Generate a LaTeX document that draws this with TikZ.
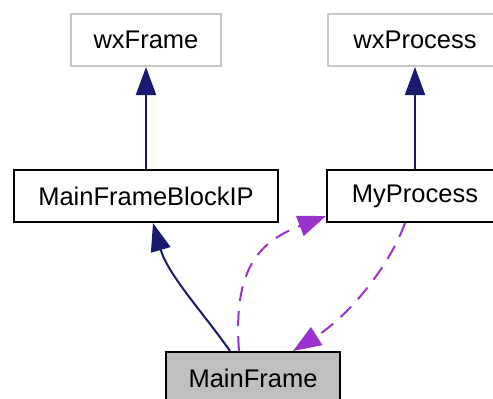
\documentclass[tikz,border=0pt]{standalone}
\usepackage{fontspec}
\setmainfont{Liberation Sans}
\usetikzlibrary{arrows.meta,calc}
\definecolor{Navy}{HTML}{191970}
\definecolor{Orchid}{HTML}{9A32CD}
\definecolor{LGray}{HTML}{C8C8C8}
\definecolor{MGray}{HTML}{BFBFBF}

\begin{document}
\begin{tikzpicture}[x=1pt, y=-1pt,
    cls/.style={draw=black, line width=2pt, fill=white, minimum height=52pt,
        inner sep=0pt, font=\fontsize{25.5}{30}\selectfont},
    ext/.style={cls, draw=LGray},
    inherit/.style={Navy, line width=2pt, -{Triangle[length=28pt, width=20pt]}},
    usage/.style={Orchid, line width=2pt, dash pattern=on 15pt off 10pt,
        -{Triangle[length=28pt, width=21pt]}}]

    \useasboundingbox (0,0) rectangle (493,399);
    \clip (0,0) rectangle (493,399);

    % base classes
    \node[ext, minimum width=150pt] (wxframe) at (146,40) {wxFrame};
    \node[ext, minimum width=174pt] (wxproc) at (415,40) {wxProcess};

    % own classes
    \node[cls, minimum width=264pt] (blockip) at (146,196) {MainFrameBlockIP};
    \node[cls, minimum width=176pt] (myproc) at (415,196) {MyProcess};
    \node[cls, fill=MGray, minimum width=174pt] (mainframe) at (253,378) {MainFrame};

    % inheritance
    \draw[inherit] (blockip) -- (wxframe);
    \draw[inherit] (myproc) -- (wxproc);
    \draw[inherit] ([xshift=-23pt]mainframe.north)
        .. controls (205,315) and (168,275) .. ([xshift=7pt]blockip.south);

    % usage
    \draw[usage] ([xshift=-14pt]mainframe.north)
        .. controls (233,270) and (258,242) .. ([yshift=7pt]myproc.south west);
    \draw[usage] ([xshift=-10pt]myproc.south)
        .. controls (390,265) and (350,315) .. ([xshift=40pt]mainframe.north);

\end{tikzpicture}
\end{document}
